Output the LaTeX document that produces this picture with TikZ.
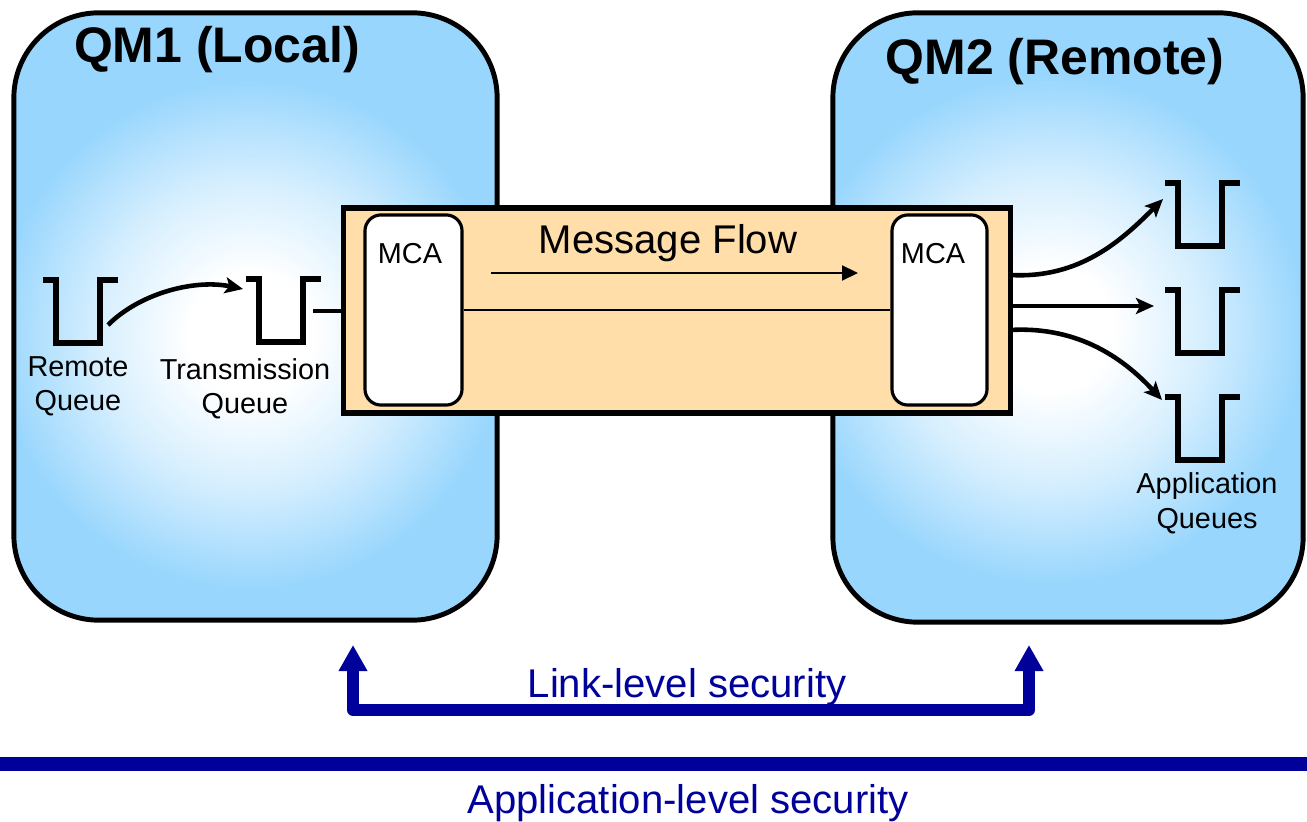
\documentclass[tikz,border=0pt]{standalone}
\usepackage{fontspec}
\setmainfont{Liberation Sans}
\usetikzlibrary{arrows.meta}

\definecolor{qmblue}{RGB}{152,214,253}
\definecolor{chanfill}{RGB}{255,222,170}
\definecolor{secblue}{RGB}{0,0,155}

% round white glow that fades into the queue-manager blue
% (the shaded path's bounding box spans the central 50bp square)
\pgfdeclareradialshading{qmglow}{\pgfpoint{0bp}{0bp}}{%
  color(0bp)=(white); color(6bp)=(white); color(15bp)=(qmblue!40!white);
  color(25bp)=(qmblue); color(50bp)=(qmblue)}

\begin{document}
\begin{tikzpicture}[x=0.01cm, y=-0.01cm,
  qmbox/.style 2 args={draw, line width=1.4pt, rounded corners=0.85cm, inner sep=0pt,
    path picture={
      \fill[qmblue] (path picture bounding box.south west) rectangle
        (path picture bounding box.north east);
      \shade[shading=qmglow] (path picture bounding box.center) ++(#1,#2) circle (2.55cm);}},
  chanbox/.style={draw, line width=1.5pt, fill=chanfill, inner sep=0pt},
  mcabox/.style={draw, line width=0.9pt, fill=white, rounded corners=0.16cm,
    minimum height=1.9cm, inner sep=0pt},
  title/.style={font=\fontsize{14.2}{17}\selectfont\bfseries, anchor=base, inner sep=0pt},
  biglabel/.style={font=\fontsize{11.4}{13.6}\selectfont, anchor=base, inner sep=0pt},
  smalllabel/.style={font=\fontsize{8.2}{9.7}\selectfont, anchor=base, inner sep=0pt,
    align=center},
  queueline/.style={line width=1.6pt, line cap=butt, line join=miter},
  flowarrow/.style={line width=1.3pt, -{Stealth[length=0.18cm, width=0.16cm, inset=0.04cm]}},
  thinarrow/.style={line width=0.6pt, -{Triangle[length=0.16cm, width=0.15cm]}},
  secarrow/.style={line width=3.4pt, line join=round, color=secblue,
    {Triangle[length=0.26cm, width=0.27cm]}-{Triangle[length=0.26cm, width=0.27cm]}},
  queue/.pic={\draw[queueline] (0,0) -- (13,0) -- (13,63) -- (57,63) -- (57,0) -- (75,0);}
]
\useasboundingbox (0,0) rectangle (1307,822);

% queue managers
\node[qmbox={-5}{18}, minimum width=4.83cm, minimum height=6.07cm] (qm1) at (255.5,316.5) {};
\node[qmbox={-18}{12}, minimum width=4.70cm, minimum height=6.09cm] (qm2) at (1068,317.5) {};
\node[title] (qm1title) at (217,63) {QM1 (Local)};
\node[title] (qm2title) at (1055,75) {QM2 (Remote)};

% channel between the two queue managers
\node[chanbox, minimum width=6.66cm, minimum height=2.05cm] (chan) at (677,310.5) {};
\node[mcabox, minimum width=0.97cm] (mca1) at (413.5,310) {};
\node[mcabox, minimum width=0.95cm] (mca2) at (939.5,310) {};
\node[smalllabel] (mca1text) at (410,264) {MCA};
\node[smalllabel] (mca2text) at (933,264) {MCA};
\draw[line width=0.6pt] (mca1) -- (mca2);
\node[biglabel] (flowtext) at (668,254) {Message Flow};
\coordinate (flowA) at (491,273);
\coordinate (flowB) at (858,273);
\draw[thinarrow] (flowA) -- (flowB);

% local side: remote queue and transmission queue
\pic at (43,280) {queue};
\pic at (246,279) {queue};
\node[smalllabel] (rqtext) at (78,411) {Remote\\Queue};
\node[smalllabel] (txtext) at (245,414) {Transmission\\Queue};
\coordinate (rqOut) at (108,325);
\coordinate (txIn) at (243,289);
\draw[flowarrow] (rqOut) .. controls (140,293) and (195,279) .. (txIn);
\coordinate (txOut) at (313,311);
\draw[line width=1.1pt] (txOut) -- (txOut -| chan.west);

% remote side: application queues
\pic at (1165,183) {queue};
\pic at (1165,290) {queue};
\pic at (1165,397) {queue};
\node[smalllabel] (aqtext) at (1207,528) {Application\\Queues};
\coordinate (out1) at (1010,275);
\coordinate (out2) at (1010,306);
\coordinate (out3) at (1010,330);
\coordinate (aq1) at (1163,199);
\coordinate (aq2) at (1154,306);
\coordinate (aq3) at (1162,400);
\draw[flowarrow] (out1) .. controls (1080,279) and (1122,240) .. (aq1);
\draw[flowarrow] (out2) -- (aq2);
\draw[flowarrow] (out3) .. controls (1080,326) and (1125,360) .. (aq3);

% link-level security
\coordinate (linkL) at (353,645);
\coordinate (linkR) at (1029,645);
\coordinate (linkBar) at (0,710);
\draw[secarrow] (linkL) -- (linkL |- linkBar) -- (linkR |- linkBar) -- (linkR);
\node[biglabel, text=secblue] (linktext) at (687,697) {Link-level security};

% application-level security
\coordinate (appL) at (0,764);
\coordinate (appR) at (1307,764);
\draw[line width=4pt, secblue] (appL) -- (appR);
\node[biglabel, text=secblue] (apptext) at (688,813) {Application-level security};
\end{tikzpicture}
\end{document}
